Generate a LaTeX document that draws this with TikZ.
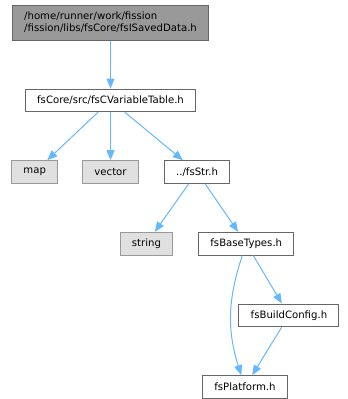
\documentclass[tikz,border=0pt]{standalone}
\usepackage{fontspec}
\setmainfont{DejaVu Sans}
\usetikzlibrary{arrows.meta,positioning}
\definecolor{DoxEdge}{HTML}{63B8FF}
\definecolor{DoxRootFill}{HTML}{999999}
\definecolor{DoxSysFill}{HTML}{E0E0E0}
\definecolor{DoxLine}{HTML}{666666}
\definecolor{DoxSysLine}{HTML}{999999}

\begin{document}
\begin{tikzpicture}[
  node distance=36pt,
  hdrbox/.style={draw=DoxLine, fill=white, line width=0.75pt, inner xsep=8.8pt, inner ysep=0pt, minimum height=17pt, font=\fontsize{7.6}{9}\selectfont},
  rootbox/.style={hdrbox, fill=DoxRootFill, align=left, minimum height=26.25pt},
  sysbox/.style={hdrbox, draw=DoxSysLine, fill=DoxSysFill},
  incl/.style={-{Triangle[length=7.5pt,width=6pt]}, draw=DoxEdge, line width=0.75pt}
]
\useasboundingbox (0,0) rectangle (261pt,-299.25pt);
\node[rootbox] (saved) at (82.9pt,-16.9pt) {/home/runner/work/fission\\/fission/libs/fsCore/fsISavedData.h};
\node[hdrbox, below=of saved] (vartab) {fsCore/src/fsCVariableTable.h};
\node[sysbox, below=of vartab] (vector) {vector};
\node[sysbox, left=18pt of vector] (map) {map};
\node[hdrbox, right=18.75pt of vector] (str) {../fsStr.h};
\node[sysbox, below=of str, xshift=-38pt] (string) {string};
\node[hdrbox, right=18.75pt of string] (basetypes) {fsBaseTypes.h};
\node[hdrbox, below=of basetypes, xshift=32pt] (buildcfg) {fsBuildConfig.h};
\node[hdrbox, below=of buildcfg, xshift=-33pt] (platform) {fsPlatform.h};
\draw[incl] (saved) -- (vartab);
\draw[incl] (vartab) -- (map);
\draw[incl] (vartab) -- (vector);
\draw[incl] (vartab) -- (str);
\draw[incl] (str) -- (string);
\draw[incl] (str) -- (basetypes);
\draw[incl] (basetypes) -- (buildcfg);
\draw[incl] (basetypes) to[bend right=18] (platform);
\draw[incl] (buildcfg) -- (platform);
\end{tikzpicture}
\end{document}
